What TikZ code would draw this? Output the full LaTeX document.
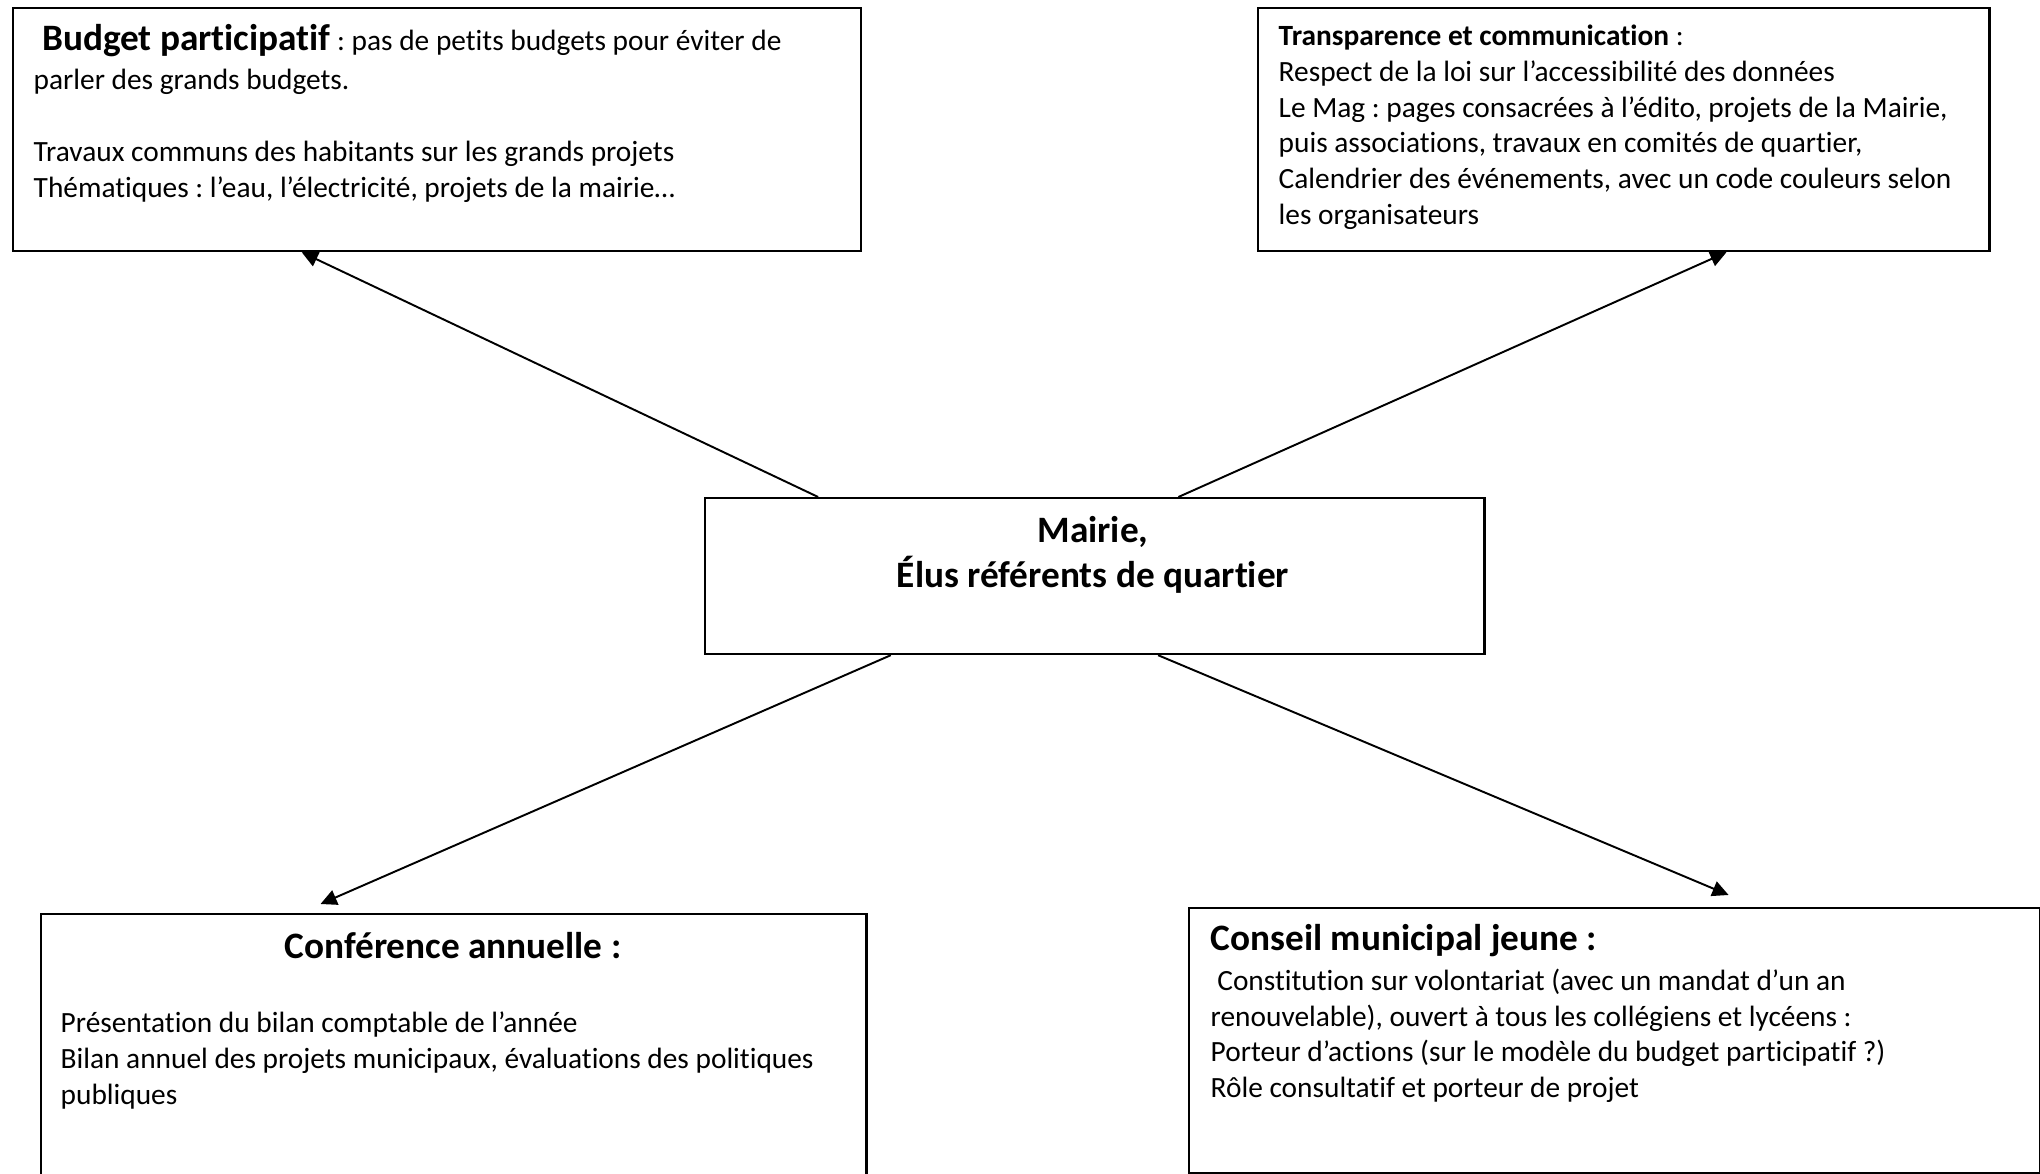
\documentclass[tikz,border=0pt]{standalone}
\usepackage{fontspec}
\setmainfont{Carlito}[Ligatures=NoCommon]
\usetikzlibrary{arrows.meta, calc}
\frenchspacing

\begin{document}
\begin{tikzpicture}[x=0.01cm, y=-0.01cm, >={Triangle[length=4.6pt, width=4.4pt]},
  cadre/.style={draw, line width=0.6pt, inner sep=0pt, anchor=north west},
  texte/.style={inner sep=0pt, anchor=north west, align=left,
    font=\fontsize{8.35}{10.2}\selectfont},
  titre/.style={inner sep=0pt, font=\fontsize{10.6}{12.9}\selectfont\bfseries},
  lien/.style={->, line width=0.55pt}]

  % Cadre de la page
  \useasboundingbox (0,0) rectangle (2040,1174);

  % Cadres
  \node[cadre, minimum width=8.47cm, minimum height=2.43cm] (budget) at (12,7) {};
  \node[cadre, minimum width=7.31cm, minimum height=2.43cm] (transp) at (1257,7) {};
  \node[cadre, minimum width=7.79cm, minimum height=1.56cm] (mairie) at (704,497) {};
  \node[cadre, minimum width=8.25cm, minimum height=2.90cm] (conf) at (40,913) {};
  \node[cadre, minimum width=8.50cm, minimum height=2.65cm] (cmj) at (1188,907) {};

  % Textes
  \node[texte] (budgettxt) at (33,24)
    {{\fontsize{10.6}{12}\selectfont\bfseries\ Budget participatif} : pas de petits budgets pour éviter de\\[0.9pt]
     parler des grands budgets.\\[10.2pt]
     Travaux communs des habitants sur les grands projets\\
     Thématiques : l’eau, l’électricité, projets de la mairie…};

  \node[texte] (transptxt) at (1278,24)
    {\textbf{Transparence et communication} :\\
     Respect de la loi sur l’accessibilité des données\\
     Le Mag : pages consacrées à l’édito, projets de la Mairie,\\
     puis associations, travaux en comités de quartier,\\
     Calendrier des événements, avec un code couleurs selon\\
     les organisateurs};

  \node[titre, align=center] (mairietxt) at (1093,555) {Mairie,\\ Élus référents de quartier};

  \node[titre] (conftitre) at (453,946) {Conférence annuelle :};
  \node[texte] (conftxt) at (60,1011)
    {Présentation du bilan comptable de l’année\\
     Bilan annuel des projets municipaux, évaluations des politiques\\
     publiques};

  \node[texte] (cmjtxt) at (1210,924)
    {{\fontsize{10.6}{12}\selectfont\bfseries Conseil municipal jeune :}\\[1pt]
     \ Constitution sur volontariat (avec un mandat d’un an\\
     renouvelable), ouvert à tous les collégiens et lycéens :\\
     Porteur d’actions (sur le modèle du budget participatif ?)\\
     Rôle consultatif et porteur de projet};

  % Fleches
  \draw[lien] ($(mairie.north west)!0.146!(mairie.north east)$) -- ($(budget.south west)!0.341!(budget.south east)$);
  \draw[lien] ($(mairie.north west)!0.607!(mairie.north east)$) -- ($(transp.south west)!0.640!(transp.south east)$);
  \draw[lien] ($(mairie.south west)!0.239!(mairie.south east)$) -- ($(conf.north west)!0.339!(conf.north east) + (0,-9)$);
  \draw[lien] ($(mairie.south west)!0.581!(mairie.south east)$) -- ($(cmj.north west)!0.634!(cmj.north east) + (0,-12)$);

\end{tikzpicture}
\end{document}
